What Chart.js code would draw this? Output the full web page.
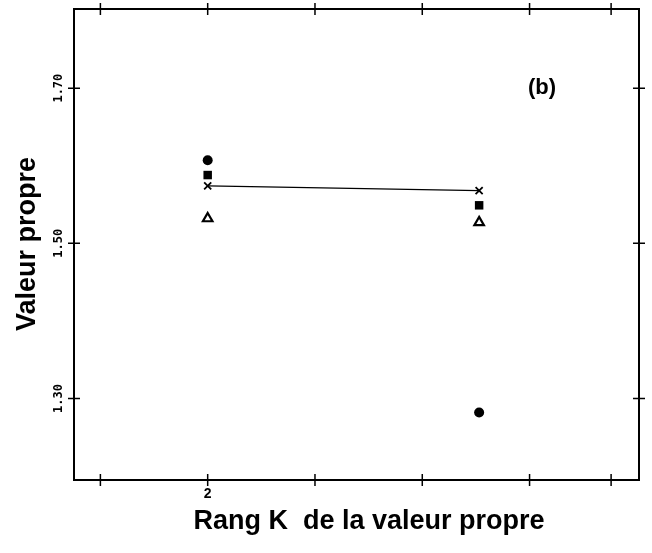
<!DOCTYPE html>
<html>
<head>
<meta charset="utf-8">
<script src="https://cdn.jsdelivr.net/npm/chart.js@4"></script>
<style>
  html, body { margin: 0; padding: 0; background: #fff; }
  #wrap { position: relative; width: 652px; height: 553px; }
</style>
</head>
<body>
<div id="wrap"><canvas id="c" width="652" height="553"></canvas></div>
<script>
// ---- data ----
const rangs = [2, 4.53];                 // x positions of the two groups
const serieCercle   = [1.607, 1.282];    // filled circles
const serieCarre    = [1.588, 1.549];    // filled squares
const serieCroix    = [1.574, 1.568];    // crosses joined by a line
const serieTriangle = [1.532, 1.527];    // open triangles
const xTickValues = [1, 2, 3, 4, 5, 5.76];
const xTickLabels = ['', '2', '', '', '', ''];
const yTickValues = [1.3, 1.5, 1.7];
const yTickLabels = ['1.30', '1.50', '1.70'];
const xTitle = 'Rang K  de la valeur propre';
const yTitle = 'Valeur propre';
const panelLabel = '(b)';

const pts = (ys) => rangs.map((x, i) => ({ x: x, y: ys[i] }));

const framePlugin = {
  id: 'frame',
  afterDraw(chart) {
    const ctx = chart.ctx;
    const a = chart.chartArea;
    const xs = chart.scales.x, ys = chart.scales.y;
    ctx.save();
    ctx.strokeStyle = '#000';
    ctx.lineWidth = 2;
    ctx.strokeRect(a.left, a.top, a.right - a.left, a.bottom - a.top);
    // crossing tick marks
    ctx.lineWidth = 1.5;
    ctx.beginPath();
    xTickValues.forEach(v => {
      const px = xs.getPixelForValue(v);
      ctx.moveTo(px, a.bottom - 6); ctx.lineTo(px, a.bottom + 6);
      ctx.moveTo(px, a.top - 6); ctx.lineTo(px, a.top + 6);
    });
    yTickValues.forEach(v => {
      const py = ys.getPixelForValue(v);
      ctx.moveTo(a.left - 6, py); ctx.lineTo(a.left + 6, py);
      ctx.moveTo(a.right - 6, py); ctx.lineTo(a.right + 6, py);
    });
    ctx.stroke();
    // y tick labels, rotated
    ctx.fillStyle = '#000';
    ctx.font = 'bold 12px "DejaVu Sans Mono", monospace';
    ctx.textAlign = 'center';
    ctx.textBaseline = 'middle';
    yTickValues.forEach((v, i) => {
      const py = ys.getPixelForValue(v);
      ctx.save();
      ctx.translate(a.left - 15, py);
      ctx.rotate(-Math.PI / 2);
      ctx.fillText(yTickLabels[i], 0, 0);
      ctx.restore();
    });
    // axis titles
    ctx.font = 'bold 27px "Liberation Sans", Arial, sans-serif';
    ctx.save();
    ctx.translate(28, 244);
    ctx.rotate(-Math.PI / 2);
    ctx.fillText(yTitle, 0, 0);
    ctx.restore();
    ctx.fillText(xTitle, 369, 522);
    // panel label
    ctx.font = 'bold 22px "Liberation Sans", Arial, sans-serif';
    ctx.fillText(panelLabel, 542, 88);
    ctx.restore();
  }
};

new Chart(document.getElementById('c'), {
  type: 'scatter',
  data: {
    datasets: [
      { label: 'croix', data: pts(serieCroix), showLine: true, borderColor: '#000', borderWidth: 1.2,
        pointStyle: 'crossRot', pointRadius: 5, pointBorderWidth: 1.8, pointBorderColor: '#000', backgroundColor: '#000' },
      { label: 'cercle', data: pts(serieCercle), pointStyle: 'circle', pointRadius: 5,
        backgroundColor: '#000', borderColor: '#000', pointBorderWidth: 0 },
      { label: 'carre', data: pts(serieCarre), pointStyle: 'rect', pointRadius: 6,
        backgroundColor: '#000', borderColor: '#000', pointBorderWidth: 0 },
      { label: 'triangle', data: pts(serieTriangle), pointStyle: 'triangle', pointRadius: 5.5,
        backgroundColor: '#fff', borderColor: '#000', pointBorderWidth: 2.2 }
    ]
  },
  options: {
    responsive: false,
    animation: false,
    events: [],
    layout: { padding: { top: 9, right: 13, left: 0, bottom: 0 } },
    plugins: { legend: { display: false }, tooltip: { enabled: false } },
    scales: {
      x: {
        type: 'linear', min: 0.754, max: 6.02,
        afterBuildTicks: (s) => { s.ticks = xTickValues.map(v => ({ value: v })); },
        afterFit: (s) => { s.height = 73; },
        grid: { display: false, drawTicks: false },
        border: { display: false },
        ticks: {
          padding: 6, color: '#000',
          font: { family: '"Liberation Sans", Arial, sans-serif', size: 14, weight: 'bold' },
          callback: (v) => { const i = xTickValues.indexOf(v); return i >= 0 ? xTickLabels[i] : ''; },
          autoSkip: false, maxRotation: 0
        }
      },
      y: {
        type: 'linear', min: 1.195, max: 1.802,
        afterBuildTicks: (s) => { s.ticks = yTickValues.map(v => ({ value: v })); },
        afterFit: (s) => { s.width = 74; },
        grid: { display: false, drawTicks: false },
        border: { display: false },
        ticks: { display: false }
      }
    }
  },
  plugins: [framePlugin]
});
</script>
</body>
</html>
